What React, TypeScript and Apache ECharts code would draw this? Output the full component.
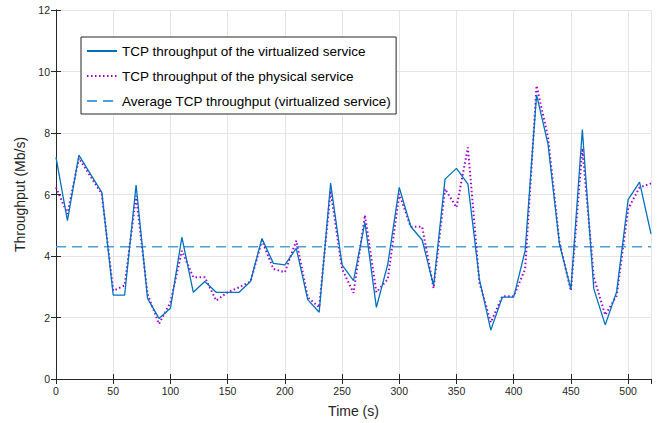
import React, { useEffect, useRef } from "react";
import * as echarts from "echarts";

const times = [0, 10, 20, 30, 40, 50, 60, 70, 80, 90, 100, 110, 120, 130, 140, 150, 160, 170, 180, 190, 200, 210, 220, 230, 240, 250, 260, 270, 280, 290, 300, 310, 320, 330, 340, 350, 360, 370, 380, 390, 400, 410, 420, 430, 440, 450, 460, 470, 480, 490, 500, 510, 520];
const virtualized = [7.21, 5.15, 7.28, 6.67, 6.07, 2.73, 2.73, 6.31, 2.62, 1.97, 2.3, 4.61, 2.82, 3.17, 2.82, 2.82, 2.82, 3.17, 4.57, 3.76, 3.71, 4.25, 2.58, 2.17, 6.37, 3.71, 3.2, 5.09, 2.33, 3.74, 6.23, 4.96, 4.52, 3.04, 6.5, 6.85, 6.34, 3.25, 1.59, 2.66, 2.66, 4.17, 9.24, 7.64, 4.39, 2.91, 8.11, 2.93, 1.76, 2.84, 5.83, 6.4, 4.72];
const physical = [6.23, 5.37, 7.18, 6.6, 6.02, 2.87, 3.04, 5.96, 2.76, 1.79, 2.49, 4.17, 3.31, 3.31, 2.55, 2.82, 2.98, 3.17, 4.5, 3.58, 3.47, 4.5, 2.66, 2.33, 6.12, 3.58, 2.8, 5.33, 2.82, 3.25, 6.02, 4.95, 4.95, 2.95, 6.18, 5.58, 7.53, 3.14, 1.84, 2.69, 2.69, 3.58, 9.54, 7.86, 4.44, 2.87, 7.5, 3.31, 2.08, 2.71, 5.53, 6.23, 6.36];
const averageValue = 4.3;
const averageRange = [0, 520];
const seriesNames = [
  "TCP throughput of the virtualized service",
  "TCP throughput of the physical service",
  "Average TCP throughput (virtualized service)",
];

const FONT = "Liberation Sans, Arial, Helvetica, sans-serif";

export default function App() {
  const ref = useRef<HTMLDivElement>(null);
  useEffect(() => {
    if (!ref.current) return;
    const chart = echarts.init(ref.current, null, { renderer: "svg" });
    const axisLine = { show: true, lineStyle: { color: "#262626", width: 1 } };
    const tick = { show: true, inside: true, length: 5, lineStyle: { color: "#262626" } };
    const label = { color: "#262626", fontSize: 10.5, fontFamily: FONT };
    chart.setOption({
      animation: false,
      backgroundColor: "#ffffff",
      grid: { left: 56, right: 21, top: 10, bottom: 43, show: false },
      legend: {
        orient: "vertical",
        left: 81,
        top: 37,
        itemWidth: 30,
        itemHeight: 12,
        itemGap: 11,
        padding: [7, 5, 6, 5],
        backgroundColor: "#ffffff",
        borderColor: "#262626",
        borderWidth: 1,
        borderRadius: 0,
        itemStyle: { opacity: 0 },
        textStyle: { color: "#000000", fontSize: 13.5, fontFamily: FONT },
        data: seriesNames,
      },
      xAxis: [
        {
          type: "value",
          min: 0,
          max: 520,
          interval: 50,
          position: "bottom",
          name: "Time (s)",
          nameLocation: "middle",
          nameGap: 25,
          nameTextStyle: { color: "#262626", fontSize: 14, fontFamily: FONT },
          axisLine,
          axisTick: tick,
          axisLabel: { ...label, margin: 6, showMaxLabel: false },
          splitLine: { show: true, lineStyle: { color: "#e5e5e5", width: 1 } },
        },
        {
          type: "value",
          min: 0,
          max: 520,
          interval: 50,
          position: "top",
          axisLine,
          axisTick: tick,
          axisLabel: { show: false },
          splitLine: { show: false },
        },
      ],
      yAxis: [
        {
          type: "value",
          min: 0,
          max: 12,
          interval: 2,
          position: "left",
          name: "Throughput (Mb/s)",
          nameLocation: "middle",
          nameGap: 27,
          nameTextStyle: { color: "#262626", fontSize: 14, fontFamily: FONT },
          axisLine,
          axisTick: tick,
          axisLabel: { ...label, margin: 6 },
          splitLine: { show: true, lineStyle: { color: "#e5e5e5", width: 1 } },
        },
        {
          type: "value",
          min: 0,
          max: 12,
          interval: 2,
          position: "right",
          axisLine,
          axisTick: tick,
          axisLabel: { show: false },
          splitLine: { show: false },
        },
      ],
      series: [
        {
          name: seriesNames[2],
          type: "line",
          data: averageRange.map((t) => [t, averageValue]),
          symbol: "none",
          lineStyle: { color: "#4d9fdc", width: 1.5, type: [10, 6] },
          itemStyle: { color: "#4d9fdc" },
          z: 2,
        },
        {
          name: seriesNames[1],
          type: "line",
          data: times.map((t, i) => [t, physical[i]]),
          symbol: "none",
          lineStyle: { color: "#a000d8", width: 2, type: [1.5, 2.5] },
          itemStyle: { color: "#a000d8" },
          z: 3,
        },
        {
          name: seriesNames[0],
          type: "line",
          data: times.map((t, i) => [t, virtualized[i]]),
          symbol: "none",
          lineStyle: { color: "#0072bd", width: 1.3 },
          itemStyle: { color: "#0072bd" },
          z: 4,
        },
      ],
    });
    return () => chart.dispose();
  }, []);
  return <div ref={ref} style={{ width: 672, height: 423, position: "absolute", left: 0, top: 0 }} />;
}
